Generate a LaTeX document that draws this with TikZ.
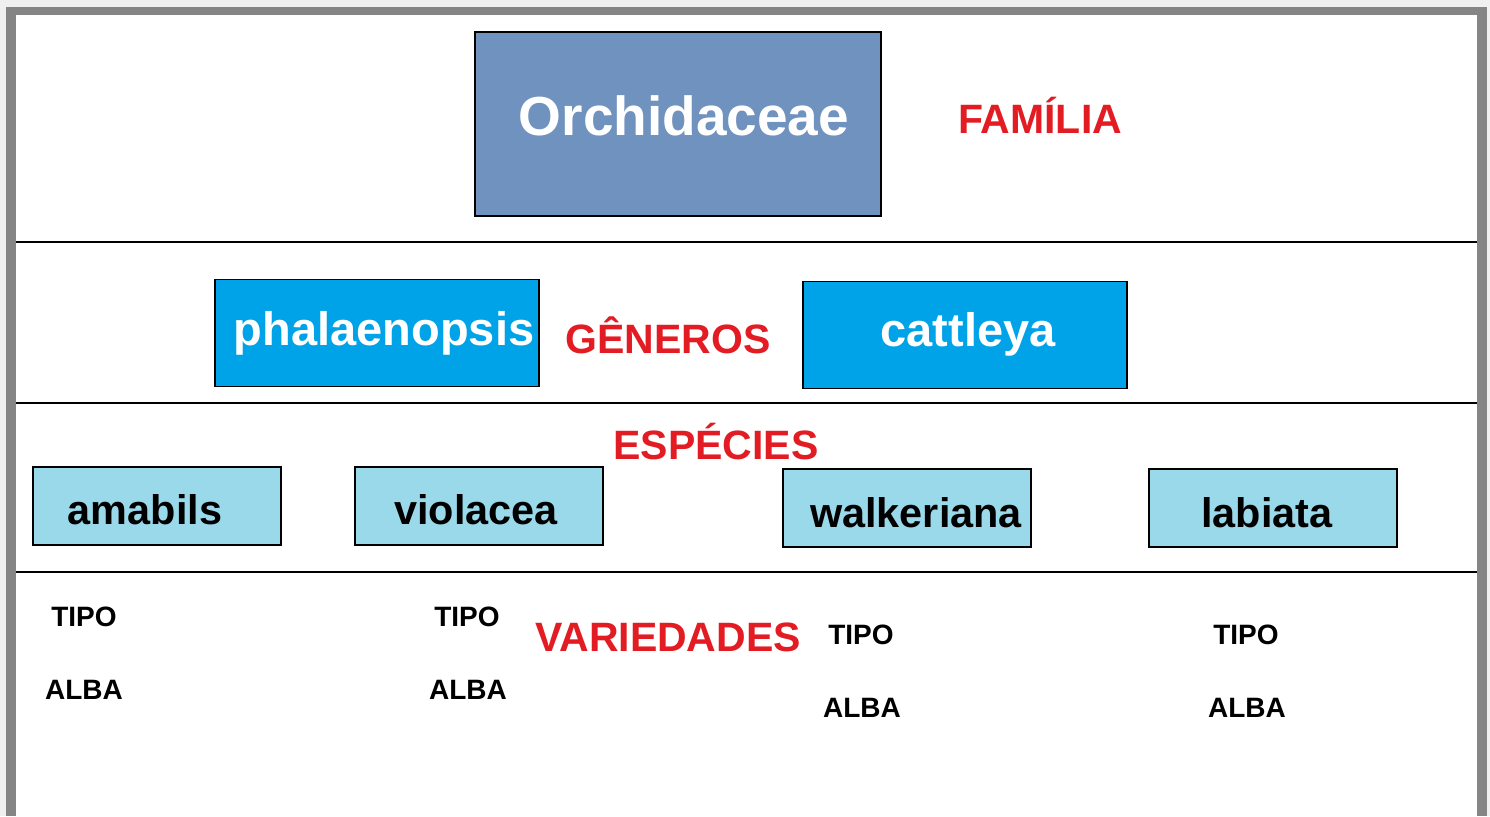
\documentclass[tikz,border=0pt]{standalone}
\usepackage{xcolor}
\usepackage{fontspec}
\setmainfont{Liberation Sans}
\usepackage{tikz}
\usetikzlibrary{positioning}

\definecolor{famblue}{HTML}{7092BE}
\definecolor{genblue}{HTML}{00A2E8}
\definecolor{spcblue}{HTML}{99D9EA}
\definecolor{lblred}{HTML}{E31C24}
\definecolor{framegray}{HTML}{858585}
\definecolor{pagegray}{HTML}{F0F0F0}

\begin{document}
\begin{tikzpicture}[x=0.5pt, y=-0.5pt]
\tikzset{FamStyle/.style = {draw=black, line width=1pt, fill=famblue, text=white, minimum width=203pt, minimum height=92pt, font=\bfseries\fontsize{27.5}{29}\selectfont}}
\tikzset{GenStyle/.style = {draw=black, line width=0.8pt, fill=genblue, text=white, minimum width=162pt, minimum height=53.5pt, inner sep=1pt, font=\bfseries\fontsize{23.5}{25}\selectfont}}
\tikzset{SpcStyle/.style = {draw=black, line width=0.8pt, fill=spcblue, text=black, minimum width=124pt, minimum height=39pt, font=\bfseries\fontsize{20.7}{22}\selectfont}}
\tikzset{RankStyle/.style = {text=lblred, inner sep=0pt, font=\bfseries\fontsize{20.5}{22}\selectfont}}
\tikzset{VarStyle/.style = {text=black, inner sep=0pt, font=\bfseries\fontsize{14}{15}\selectfont}}
\tikzset{RuleStyle/.style = {draw=black, line width=0.8pt}}

	% frame
	\fill[pagegray] (0,0) rectangle (1490,816);
	\fill[framegray] (6,7) rectangle (1487,816);
	\fill[white] (16,15) rectangle (1477,816);
	\useasboundingbox (0,0) rectangle (1490,816);

	% separators
	\coordinate (l1) at (16,242);  \coordinate (r1) at (1477,242);
	\coordinate (l2) at (16,403);  \coordinate (r2) at (1477,403);
	\coordinate (l3) at (16,572);  \coordinate (r3) at (1477,572);
	\draw[RuleStyle] (l1) -- (r1);
	\draw[RuleStyle] (l2) -- (r2);
	\draw[RuleStyle] (l3) -- (r3);

	% familia
	\node[FamStyle, text depth=8pt] (orch) at (678,124) {\hspace*{6pt}Orchidaceae};
	\node[RankStyle] (fam) at (1040,115) {FAMÍLIA};

	% generos
	\node[GenStyle] (phal) at (377,333) {\hspace*{7pt}phalaenopsis};
	\node[RankStyle] (gen) at (668,335) {GÊNEROS};
	\node[GenStyle, text depth=6pt] (catt) at (965,335) {\hspace*{3pt}cattleya};

	% especies
	\node[RankStyle] (esp) at (716,442) {ESPÉCIES};
	\node[SpcStyle, text height=19pt] (amab) at (157,506) {amabils\hspace*{12pt}};
	\node[SpcStyle, text height=19pt] (viol) at (479,506) {violacea\hspace*{3pt}};
	\node[SpcStyle, text height=20pt] (walk) at (907,508) {\hspace*{9pt}walkeriana};
	\node[SpcStyle, text height=20pt] (labi) at (1273,508) {labiata\hspace*{6pt}};

	% variedades
	\node[RankStyle] (var) at (668,637) {VARIEDADES};
	\node[VarStyle] (tipoA) at (84,617) {TIPO};
	\node[VarStyle] (albaA) at (84,690) {ALBA};
	\node[VarStyle] (tipoB) at (467,617) {TIPO};
	\node[VarStyle] (albaB) at (468,690) {ALBA};
	\node[VarStyle] (tipoC) at (861,635) {TIPO};
	\node[VarStyle] (albaC) at (862,708) {ALBA};
	\node[VarStyle] (tipoD) at (1246,635) {TIPO};
	\node[VarStyle] (albaD) at (1247,708) {ALBA};

\end{tikzpicture}
\end{document}
